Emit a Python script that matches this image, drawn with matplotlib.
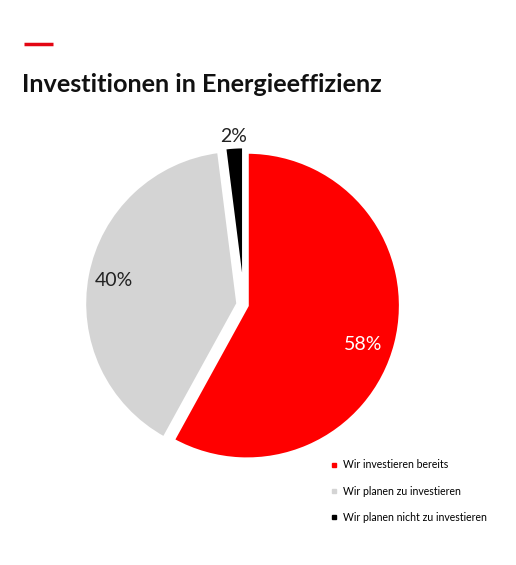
import numpy as np
import matplotlib
matplotlib.use("Agg")
import matplotlib.pyplot as plt
from matplotlib.lines import Line2D

labels = ["Wir investieren bereits", "Wir planen zu investieren",
          "Wir planen nicht zu investieren"]
values = [58, 40, 2]
colors = ["#ff0000", "#d4d4d4", "#000000"]
pct_colors = ["white", "#222222", "#222222"]

plt.rcParams["font.family"] = ["Lato", "DejaVu Sans"]

fig = plt.figure(figsize=(5.16, 5.65), dpi=100)

# red dash + title
fig.add_artist(Line2D([24 / 516, 53 / 516], [1 - 44 / 565, 1 - 44 / 565],
                      color="#e30613", lw=2.5, solid_capstyle="butt"))
fig.text(22 / 516, 1 - 92 / 565, "Investitionen in Energieeffizienz",
         fontsize=18.2, fontweight="bold", color="#111111", va="baseline")

ax = fig.add_axes([0.101, 0.12, 0.744, 0.681])
wedges, texts, autotexts = ax.pie(
    values, colors=colors, startangle=90, counterclock=False,
    explode=[0.02, 0.04, 0.03], autopct="%d%%", pctdistance=0.82,
    wedgeprops=dict(edgecolor="white", linewidth=2.5),
    textprops=dict(fontsize=14))
ax.set_aspect("equal")

for w, t, c in zip(wedges, autotexts, pct_colors):
    t.set_color(c)
    if w.theta2 - w.theta1 < 10:
        ang = np.deg2rad((w.theta1 + w.theta2) / 2)
        t.set_position((1.10 * np.cos(ang), 1.10 * np.sin(ang)))
    elif w.theta2 - w.theta1 > 180:
        # big red slice: label sits a little lower than its middle
        ang = np.deg2rad((w.theta1 + w.theta2) / 2 - 4)
        t.set_position((0.82 * np.cos(ang), 0.82 * np.sin(ang)))

handles = [Line2D([], [], marker="s", ls="", color=c, markersize=3.5) for c in colors]
fig.legend(handles, labels, loc="upper left", bbox_to_anchor=(319 / 516, 1 - 450 / 565),
           frameon=False, fontsize=7.6, handletextpad=0.4, labelspacing=1.45,
           handlelength=1.0)

fig.savefig("out.png", dpi=100)
